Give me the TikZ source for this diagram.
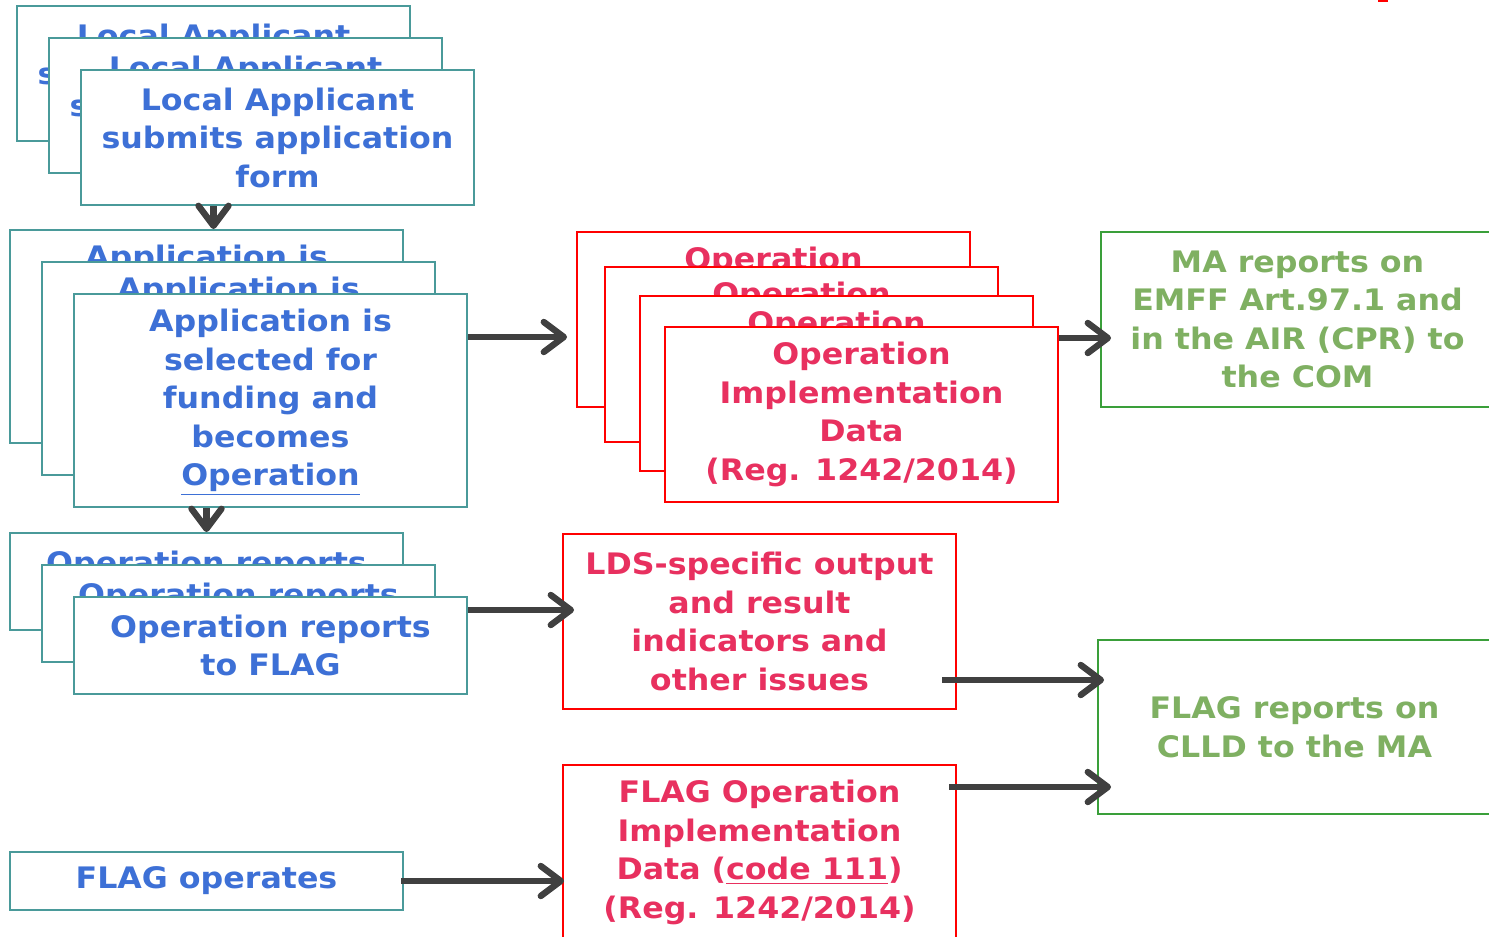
\documentclass[tikz,border=0pt]{standalone}
\usepackage{fontspec}
\setmainfont{DejaVu Sans}[FakeStretch=1.07]
\usepackage{tikz}
\usetikzlibrary{positioning}
\usetikzlibrary{arrows.meta}
\usetikzlibrary{calc}

\definecolor{appblue}{HTML}{3D70D6}
\definecolor{appteal}{HTML}{4A9A9A}
\definecolor{datared}{HTML}{E8305F}
\definecolor{reportgreen}{HTML}{7FB062}
\definecolor{framegreen}{HTML}{3A9F3A}
\definecolor{arrowgray}{HTML}{404040}

\newcommand{\opline}[1]{\smash{\underline{#1}}\vphantom{#1}}

\tikzset{
	stepbase/.style={rectangle, fill=white, line width=1pt, minimum width=196.5pt, align=center, inner sep=0pt,
		font=\bfseries\fontsize{14.8}{19.25}\selectfont},
	appbox/.style={stepbase, draw=appteal, text=appblue},
	databox/.style={stepbase, draw=red, text=datared},
	reportbox/.style={stepbase, draw=framegreen, text=reportgreen},
	flow/.style={draw=arrowgray, line width=3.2pt, -{Straight Barb[length=10pt,width=15pt,round]}}
}

\begin{document}
\begin{tikzpicture}[x=0.5pt, y=-0.5pt]
\useasboundingbox (0,0) rectangle (1489,937);

% applicant side
\node[appbox, minimum height=67.5pt] (loc0) at (213.5,73.5) {Local Applicant\\submits application\\form};
\node[appbox, minimum height=67.5pt] (loc1) at (245.5,105.5) {Local Applicant\\submits application\\form};
\node[appbox, minimum height=67.5pt] (loc2) at (277.5,137.5) {Local Applicant\\submits application\\form};

\node[appbox, minimum height=106.5pt] (app0) at (206.5,336.5) {Application is\\selected for\\funding and\\becomes\\\opline{Operation}};
\node[appbox, minimum height=106.5pt] (app1) at (238.5,368.5) {Application is\\selected for\\funding and\\becomes\\\opline{Operation}};
\node[appbox, minimum height=106.5pt] (app2) at (270.5,400.5) {Application is\\selected for\\funding and\\becomes\\\opline{Operation}};

\node[appbox, minimum height=48.5pt] (rep0) at (206.5,581.5) {Operation reports\\to FLAG};
\node[appbox, minimum height=48.5pt] (rep1) at (238.5,613.5) {Operation reports\\to FLAG};
\node[appbox, minimum height=48.5pt] (rep2) at (270.5,645.5) {Operation reports\\to FLAG};

\node[appbox, minimum height=29pt] (flagop) at (206.5,881) {FLAG operates};

% data side
\node[databox, minimum height=87.5pt] (opd0) at (773.5,319.5) {Operation\\Implementation\\Data\\(Reg. 1242/2014)};
\node[databox, minimum height=87.5pt] (opd1) at (801.5,354) {Operation\\Implementation\\Data\\(Reg. 1242/2014)};
\node[databox, minimum height=87.5pt] (opd2) at (836.5,383) {Operation\\Implementation\\Data\\(Reg. 1242/2014)};
\node[databox, minimum height=87.5pt] (opd3) at (861.5,414.5) {Operation\\Implementation\\Data\\(Reg. 1242/2014)};

\node[databox, minimum height=87.5pt] (lds) at (759.5,621.5) {LDS-specific output\\and result\\indicators and\\other issues};
\node[databox, minimum height=87.5pt] (fod) at (759.5,852.5) {FLAG Operation\\Implementation\\Data (\opline{code 111})\\(Reg. 1242/2014)};

% reporting side
\node[reportbox, minimum height=87.5pt] (ma) at (1297.5,319.5) {MA reports on\\EMFF Art.97.1 and\\in the AIR (CPR) to\\the COM};
\node[reportbox, minimum height=87pt] (flagrep) at (1294.5,727) {FLAG reports on\\CLLD to the MA};

\fill[red] (1378,0) rectangle (1388,2);

\draw[flow] (loc2.south -| loc0.south) -- (app0.north -| loc0.south);
\draw[flow] (app2.south -| app0.south) -- (rep0.north);
\draw[flow] ($(app2.east)+(0,-63.5)$) -- ($(opd0.west)+(-9,17.5)$);
\draw[flow] ($(opd3.east)+(0,-76.5)$) -- ($(ma.west)+(11,18.5)$);
\draw[flow] ($(rep2.east)+(0,-35.5)$) -- ($(lds.west)+(12,-11.5)$);
\draw[flow] ($(lds.east)+(-15,58.5)$) -- ($(flagrep.west)+(7,-47)$);
\draw[flow] ($(fod.east)+(-8,-65.5)$) -- ($(flagrep.west)+(14,60)$);
\draw[flow] ($(flagop.east)+(-3,0)$) -- ($(fod.west)+(2,28.5)$);
\end{tikzpicture}
\end{document}
